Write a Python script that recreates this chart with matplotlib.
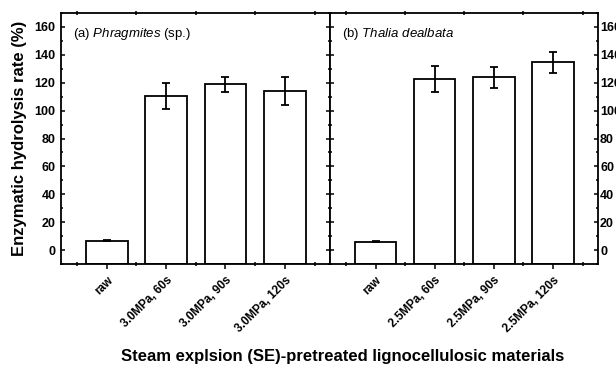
import matplotlib
matplotlib.use("Agg")
import matplotlib.pyplot as plt
from matplotlib.ticker import MultipleLocator, FixedLocator

plt.rcParams["font.family"] = ["Liberation Sans", "DejaVu Sans"]
plt.rcParams["mathtext.fontset"] = "custom"
plt.rcParams["mathtext.rm"] = "Liberation Sans"
plt.rcParams["mathtext.it"] = "Liberation Sans:italic"

# hydrolysis rate (%) and error for each pretreatment
labels_a = ["raw", "3.0MPa, 60s", "3.0MPa, 90s", "3.0MPa, 120s"]
rate_a = [6.8, 110.4, 118.8, 113.8]
err_a = [0.4, 9.6, 5.3, 10.0]

labels_b = ["raw", "2.5MPa, 60s", "2.5MPa, 90s", "2.5MPa, 120s"]
rate_b = [6.0, 122.9, 123.8, 134.6]
err_b = [0.3, 9.3, 7.8, 7.6]

titles = [r"(a) $\mathit{Phragmites}$ (sp.)", r"(b) $\mathit{Thalia\ dealbata}$"]

YMIN, YMAX = -10, 170
LW = 1.3

fig = plt.figure(figsize=(6.16, 3.66), dpi=100)
ax1 = fig.add_axes([61 / 616, 102 / 366, 269 / 616, 251 / 366])
ax2 = fig.add_axes([330 / 616, 102 / 366, 268 / 616, 251 / 366])

for ax, labels, rate, err, title in ((ax1, labels_a, rate_a, err_a, titles[0]),
                                     (ax2, labels_b, rate_b, err_b, titles[1])):
    pos = list(range(1, len(rate) + 1))
    # bars start at the bottom of the axis, as in Origin
    ax.bar(pos, [r - YMIN for r in rate], 0.7, bottom=YMIN, color="white",
           edgecolor="black", linewidth=LW, zorder=2)
    ax.errorbar(pos, rate, yerr=err, fmt="none", ecolor="black", elinewidth=LW,
                capsize=2.8, capthick=LW, zorder=3)
    ax.set_xlim(0.23, 4.76)
    ax.set_ylim(YMIN, YMAX)
    ax.xaxis.set_major_locator(FixedLocator(pos))
    ax.xaxis.set_minor_locator(FixedLocator([p - 0.5 for p in pos] + [pos[-1] + 0.5]))
    ax.set_xticklabels(labels, rotation=45, ha="right", rotation_mode="anchor",
                       fontsize=8.5, fontweight="bold")
    ax.tick_params(axis="x", which="major", direction="out", length=3.4, width=1.1,
                   pad=4)
    ax.tick_params(axis="x", which="minor", direction="inout", length=3.4,
                   width=1.1, top=True)
    ax.yaxis.set_major_locator(MultipleLocator(20))
    ax.yaxis.set_minor_locator(MultipleLocator(10))
    ax.tick_params(axis="y", which="both", direction="in", left=True, right=True,
                   width=1.1)
    ax.tick_params(axis="y", which="major", length=3)
    ax.tick_params(axis="y", which="minor", length=1.6)
    for s in ax.spines.values():
        s.set_linewidth(LW)
    ax.text(0.045, 0.915, title, transform=ax.transAxes, fontsize=9.5,
            ha="left", va="center")

ax1.set_yticks(range(0, 161, 20))
ax1.tick_params(axis="y", labelsize=9, pad=4)
for t in ax1.get_yticklabels():
    t.set_fontweight("bold")
ax1.set_ylabel("Enzymatic hydrolysis rate (%)", fontsize=12, fontweight="bold",
               labelpad=5)

# right-hand labels run off the edge of the figure
ax2.set_yticks(range(0, 161, 20))
ax2.tick_params(axis="y", labelleft=False, labelright=True, labelsize=9, pad=1.5)
for t in ax2.get_yticklabels():
    t.set_fontweight("bold")

fig.text(343 / 616, 1 - 356 / 366,
         "Steam explsion (SE)-pretreated lignocellulosic materials",
         ha="center", va="center", fontsize=12, fontweight="bold")

fig.savefig("out.png", dpi=100)
